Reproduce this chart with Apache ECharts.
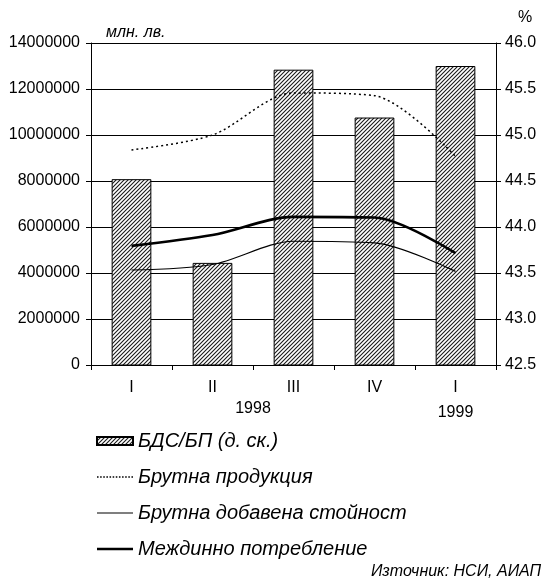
<!DOCTYPE html>
<html>
<head>
<meta charset="utf-8">
<script src="https://cdn.jsdelivr.net/npm/echarts@6/dist/echarts.min.js"></script>
<style>
html,body{margin:0;padding:0;background:#fff;}
#c{width:544px;height:584px;}
</style>
</head>
<body>
<div id="c"></div>
<script>
// ---- data ----
const categories = ['I', 'II', 'III', 'IV', 'I'];
const yearLabels = ['1998', '1999'];
const yearSpans = [[0, 3], [4, 4]];
const ratioBdsBp = [44.52, 43.61, 45.71, 45.19, 45.75];            // right axis, %
const grossOutput = [9350000, 10000000, 11830000, 11710000, 9070000]; // left axis
const grossValueAdded = [4130000, 4370000, 5380000, 5310000, 4070000];
const intermediate = [5180000, 5650000, 6440000, 6410000, 4860000];
const leftAxisRange = [0, 14000000, 2000000];
const rightAxisRange = [42.5, 46.0, 0.5];
const seriesNames = ['БДС/БП (д. ск.)', 'Брутна продукция', 'Брутна добавена стойност', 'Междинно потребление'];
const leftUnit = 'млн. лв.';
const rightUnit = '%';
const sourceText = 'Източник: НСИ, АИАП';

const FONT = '"Liberation Sans", Arial, sans-serif';

function hatch() {
  const s = 4;
  const c = document.createElement('canvas');
  c.width = s; c.height = s;
  const g = c.getContext('2d');
  g.fillStyle = '#fff';
  g.fillRect(0, 0, s, s);
  g.strokeStyle = '#1a1a1a';
  g.lineWidth = 1.1;
  g.beginPath();
  g.moveTo(-1, s + 1); g.lineTo(s + 1, -1);
  g.moveTo(-1, 1); g.lineTo(1, -1);
  g.moveTo(s - 1, s + 1); g.lineTo(s + 1, s - 1);
  g.stroke();
  return c;
}
const pattern = { image: hatch(), repeat: 'repeat' };

// legend icon shapes (kept aspect -> centred thin strokes)
let dots = '';
for (let i = 0; i < 12; i++) dots += 'M' + (i * 3) + ',0h1.5v1.5h-1.5z';
const iconDotted = 'path://' + dots;
const iconThin = 'path://M0,0H36V1.2H0Z';
const iconThick = 'path://M0,0H36V2.6H0Z';

const chart = echarts.init(document.getElementById('c'), null, { renderer: 'canvas' });

const option = {
  backgroundColor: '#fff',
  animation: false,
  textStyle: { fontFamily: FONT, color: '#000' },
  grid: { left: 91, right: 48, top: 43, bottom: 219, containLabel: false },
  xAxis: {
    type: 'category',
    data: categories,
    boundaryGap: true,
    axisLine: { lineStyle: { color: '#000', width: 1 } },
    axisTick: { show: true, length: 5, lineStyle: { color: '#000' } },
    axisLabel: { fontSize: 16, color: '#000', margin: 15, fontFamily: FONT }
  },
  yAxis: [
    {
      type: 'value',
      position: 'left',
      min: leftAxisRange[0], max: leftAxisRange[1], interval: leftAxisRange[2],
      axisLine: { show: true, lineStyle: { color: '#000', width: 1 } },
      axisTick: { show: true, length: 5, lineStyle: { color: '#000' } },
      axisLabel: { fontSize: 16, color: '#000', margin: 11, fontFamily: FONT,
        formatter: v => String(v) },
      splitLine: { show: true, lineStyle: { color: '#000', width: 1 } }
    },
    {
      type: 'value',
      position: 'right',
      min: rightAxisRange[0], max: rightAxisRange[1], interval: rightAxisRange[2],
      axisLine: { show: true, lineStyle: { color: '#000', width: 1 } },
      axisTick: { show: true, length: 5, lineStyle: { color: '#000' } },
      axisLabel: { fontSize: 16, color: '#000', margin: 9, fontFamily: FONT,
        formatter: v => v.toFixed(1) },
      splitLine: { show: false }
    }
  ],
  legend: {
    orient: 'vertical',
    left: 96, top: 431,
    padding: 0,
    itemWidth: 36, itemHeight: 8,
    itemGap: 16,
    symbolKeepAspect: true,
    textStyle: { fontSize: 20, fontStyle: 'italic', color: '#000', fontFamily: FONT },
    data: [
      { name: seriesNames[0], icon: 'rect' },
      { name: seriesNames[1], icon: iconDotted },
      { name: seriesNames[2], icon: iconThin },
      { name: seriesNames[3], icon: iconThick }
    ]
  },
  series: [
    {
      name: seriesNames[0],
      type: 'bar',
      yAxisIndex: 1,
      data: ratioBdsBp,
      barWidth: '49%',
      itemStyle: { color: pattern, borderColor: '#000', borderWidth: 1 },
      z: 2
    },
    {
      name: seriesNames[1],
      type: 'line',
      yAxisIndex: 0,
      data: grossOutput,
      symbol: 'none',
      smooth: 0.3,
      lineStyle: { color: '#000', width: 1.5, type: [2, 3] },
      itemStyle: { color: '#000' },
      z: 3
    },
    {
      name: seriesNames[2],
      type: 'line',
      yAxisIndex: 0,
      data: grossValueAdded,
      symbol: 'none',
      smooth: 0.3,
      lineStyle: { color: '#000', width: 1.2 },
      itemStyle: { color: '#000' },
      z: 3
    },
    {
      name: seriesNames[3],
      type: 'line',
      yAxisIndex: 0,
      data: intermediate,
      symbol: 'none',
      smooth: 0.3,
      lineStyle: { color: '#000', width: 2.6 },
      itemStyle: { color: '#000' },
      z: 3
    }
  ]
};
chart.setOption(option);

// year labels under category groups and unit titles
const gridBottomY = 584 - 219;
const yearGraphics = yearLabels.map((y, i) => {
  const a = chart.convertToPixel({ xAxisIndex: 0 }, yearSpans[i][0]);
  const b = chart.convertToPixel({ xAxisIndex: 0 }, yearSpans[i][1]);
  return {
    type: 'text',
    x: (a + b) / 2, y: gridBottomY + 44 + (i === 1 ? 4 : 0),
    style: { text: y, fontSize: 16, fontFamily: FONT, fill: '#000', align: 'center', verticalAlign: 'middle' }
  };
});
chart.setOption({
  graphic: yearGraphics.concat([
    { type: 'text', x: 106, y: 33,
      style: { text: leftUnit, fontSize: 16, fontStyle: 'italic', fontFamily: FONT, fill: '#000', align: 'left', verticalAlign: 'middle' } },
    { type: 'text', x: 525, y: 18,
      style: { text: rightUnit, fontSize: 16, fontFamily: FONT, fill: '#000', align: 'center', verticalAlign: 'middle' } },
    { type: 'text', x: 541, y: 572,
      style: { text: sourceText, fontSize: 16, fontStyle: 'italic', fontFamily: FONT, fill: '#000', align: 'right', verticalAlign: 'middle' } }
  ])
});
</script>
</body>
</html>
